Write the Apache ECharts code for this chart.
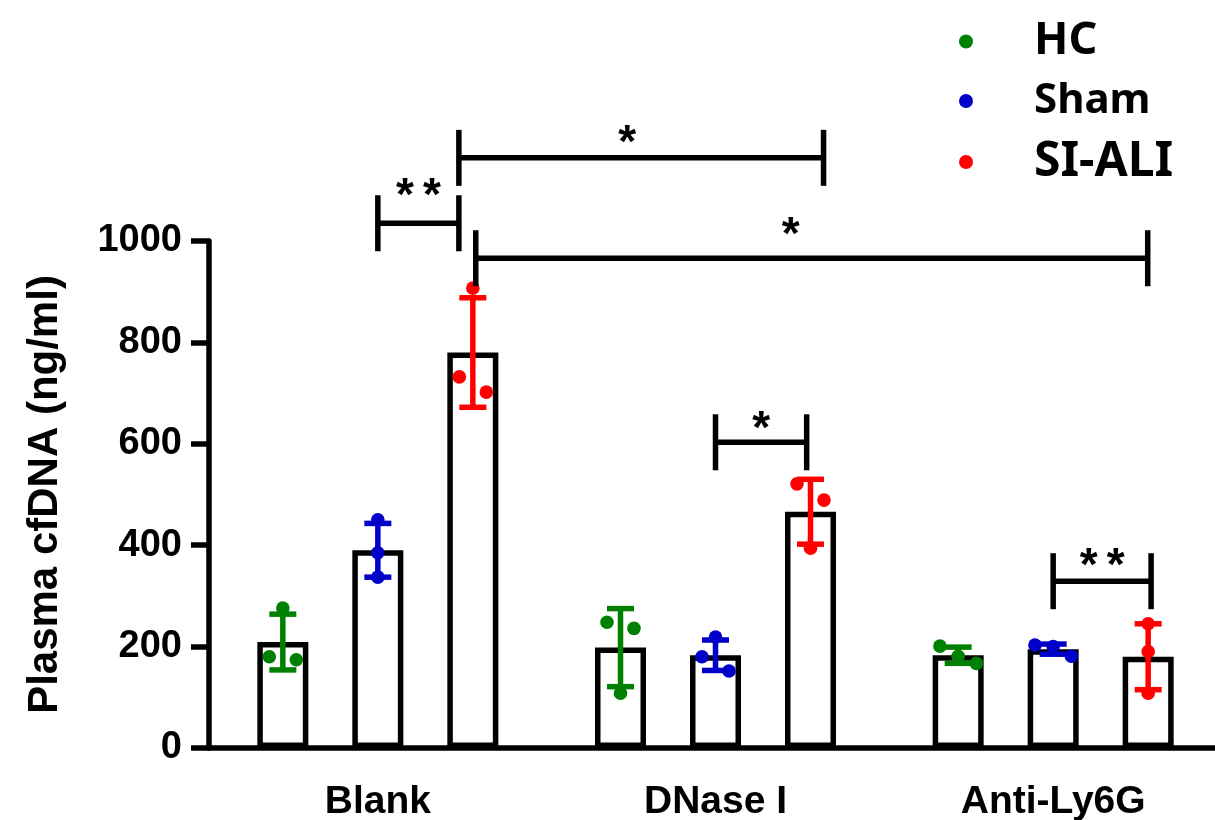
<!DOCTYPE html>
<html><head><meta charset="utf-8">
<script src="https://cdn.jsdelivr.net/npm/echarts@6/dist/echarts.min.js"></script>
<style>html,body{margin:0;padding:0;background:#fff}#c{width:1215px;height:820px}</style>
</head><body><div id="c"></div>
<script>
// ---------- DATA ----------
const categories = ['Blank', 'DNase I', 'Anti-Ly6G'];
const groupNames = ['HC', 'Sham', 'SI-ALI'];
const hcMean = [209, 198, 183];
const shamMean = [390, 183, 195];
const siMean = [780, 466, 180];
const hcSD = [55, 77, 16];
const shamSD = [53, 30, 10];
const siSD = [108, 64, 65];
const hcPoints = [[276, 180, 174], [248, 236, 108], [201, 181, 167]];
const shamPoints = [[450, 385, 337], [219, 180, 152], [203, 200, 181]];
const siPoints = [[907, 732, 702], [521, 489, 394], [245, 190, 108]];
const yTicks = [0, 200, 400, 600, 800, 1000];
// significance brackets: from (category position), to (category position), y level, label
const bracketFrom = [0.0, 0.24, 0.29, 1.0, 2.0];
const bracketTo = [0.24, 1.32, 2.28, 1.27, 2.29];
const bracketY = [1035, 1164, 966, 603, 329];
const bracketLabel = ['**', '*', '*', '*', '**'];

// ---------- STYLE / LAYOUT ----------
const COLORS = ['#008000', '#0000c8', '#ff0000'];
const BAR_W = 51, STEP = 95;
const JIT = 13.5;
const hcSide = [[0, -1, 1], [-1, 1, 0], [-1.35, 0, 1.35]];
const shamSide = [[0, 0, 0], [0, -1, 1], [-1.35, 0, 1.35]];
const siSide = [[0, -1, 1], [-1, 1, 0], [0, 0, 0]];
const starShift = [0, -14, -21, 0, 0];
const starLift = [12, 0, 8, -2, 0];
const AXIS_FONT = 'Liberation Sans, Arial, sans-serif';

const chart = echarts.init(document.getElementById('c'), null, {renderer: 'canvas'});

function barSeries(name, means) {
  return {
    type: 'bar', name: name + ' bar', data: means, barWidth: BAR_W,
    barGap: ((STEP - BAR_W) / BAR_W * 100) + '%', z: 2,
    itemStyle: {color: '#ffffff', borderColor: '#000', borderWidth: 5.5},
    emphasis: {disabled: true}, silent: true
  };
}

function groupSeries(gi, name, means, sds, pts, sides) {
  const color = COLORS[gi];
  return {
    type: 'custom', name: name, z: 5, clip: false, silent: true,
    itemStyle: {color: color},
    data: categories.map((c, i) => [i, means[i], sds[i], pts[i][0], pts[i][1], pts[i][2]]),
    encode: {x: 0, y: 1},
    renderItem: function (params, api) {
      const i = api.value(0), m = api.value(1), s = api.value(2);
      const off = (gi - 1) * STEP;
      const top = api.coord([i, m + s]);
      const bot = api.coord([i, m - s]);
      const cx = top[0] + off;
      const capW = 13.5;
      const ls = {stroke: color, lineWidth: 5.5};
      const ch = [
        {type: 'line', shape: {x1: cx, y1: top[1], x2: cx, y2: bot[1]}, style: ls},
        {type: 'line', shape: {x1: cx - capW, y1: top[1], x2: cx + capW, y2: top[1]}, style: ls},
        {type: 'line', shape: {x1: cx - capW, y1: bot[1], x2: cx + capW, y2: bot[1]}, style: ls}
      ];
      for (let k = 0; k < 3; k++) {
        const p = api.coord([i, api.value(3 + k)]);
        ch.push({type: 'circle', shape: {cx: cx + sides[i][k] * JIT, cy: p[1], r: 6.8}, style: {fill: color}});
      }
      return {type: 'group', children: ch};
    }
  };
}

const bracketSeries = {
  type: 'custom', name: 'brackets', z: 6, clip: false, silent: true,
  data: bracketY.map((y, i) => [bracketFrom[i], y]),
  encode: {y: 1},
  renderItem: function (params, api) {
    const idx = params.dataIndex;
    const p0 = api.coord([0, bracketY[idx]]);
    const p1 = api.coord([1, bracketY[idx]]);
    const band = p1[0] - p0[0];
    const xa = p0[0] + bracketFrom[idx] * band;
    const xb = p0[0] + bracketTo[idx] * band;
    const y = p0[1];
    const h = 28;
    const ls = {stroke: '#000', lineWidth: 5.5};
    const ch = [
      {type: 'line', shape: {x1: xa, y1: y, x2: xb, y2: y}, style: ls},
      {type: 'line', shape: {x1: xa, y1: y - h, x2: xa, y2: y + h}, style: ls},
      {type: 'line', shape: {x1: xb, y1: y - h, x2: xb, y2: y + h}, style: ls}
    ];
    const lab = bracketLabel[idx];
    const n = lab.length, sp = 27;
    for (let k = 0; k < n; k++) {
      ch.push({type: 'text', style: {
        text: lab[k], x: (xa + xb) / 2 + starShift[idx] + (k - (n - 1) / 2) * sp, y: y - 14 - starLift[idx],
        fill: '#000', font: 'bold 46px ' + AXIS_FONT, align: 'center', verticalAlign: 'middle'
      }});
    }
    return {type: 'group', children: ch};
  }
};

const option = {
  backgroundColor: '#ffffff',
  animation: false,
  grid: {left: 209, right: -7, top: 241, bottom: 72, outerBoundsMode: 'none', containLabel: false},
  legend: {
    orient: 'vertical', left: 954, top: 14, itemWidth: 14, itemHeight: 14, itemGap: 16,
    data: [{name: 'HC', icon: 'circle'}, {name: 'Sham', icon: 'circle'}, {name: 'SI-ALI', icon: 'circle'}],
    selectedMode: false,
    formatter: function (name) { return '{' + (name === 'HC' ? 'a' : name === 'Sham' ? 'b' : 'c') + '|' + name + '}'; },
    textStyle: {
      padding: [0, 0, 0, 56],
      rich: {
        a: {fontFamily: 'Noto Sans', fontWeight: 'bold', fontSize: 45, lineHeight: 44, color: '#000'},
        b: {fontFamily: 'Noto Sans', fontWeight: 'bold', fontSize: 42, lineHeight: 44, color: '#000'},
        c: {fontFamily: 'Noto Sans', fontWeight: 'bold', fontSize: 48, lineHeight: 44, color: '#000'}
      }
    }
  },
  xAxis: {
    type: 'category', data: categories,
    axisLine: {lineStyle: {color: '#000', width: 5.5}},
    axisTick: {alignWithLabel: true, length: 12, lineStyle: {color: '#000', width: 5.5}},
    axisLabel: {color: '#000', fontFamily: AXIS_FONT, fontWeight: 'bold', fontSize: 39, margin: 35, interval: 0},
    splitLine: {show: false}
  },
  yAxis: {
    type: 'value', min: yTicks[0], max: yTicks[yTicks.length - 1], interval: yTicks[1] - yTicks[0],
    name: 'Plasma cfDNA (ng/ml)', nameLocation: 'middle', nameGap: 143,
    nameTextStyle: {color: '#000', fontFamily: AXIS_FONT, fontWeight: 'bold', fontSize: 42},
    axisLine: {show: true, lineStyle: {color: '#000', width: 5.5}},
    axisTick: {show: true, length: 18, lineStyle: {color: '#000', width: 5.5}},
    axisLabel: {color: '#000', fontFamily: AXIS_FONT, fontWeight: 'bold', fontSize: 38, margin: 27,
      formatter: function (v) { return String(v); }},
    splitLine: {show: false}
  },
  series: [
    barSeries('HC', hcMean), barSeries('Sham', shamMean), barSeries('SI-ALI', siMean),
    groupSeries(0, 'HC', hcMean, hcSD, hcPoints, hcSide),
    groupSeries(1, 'Sham', shamMean, shamSD, shamPoints, shamSide),
    groupSeries(2, 'SI-ALI', siMean, siSD, siPoints, siSide),
    bracketSeries
  ]
};
chart.setOption(option);
</script></body></html>
